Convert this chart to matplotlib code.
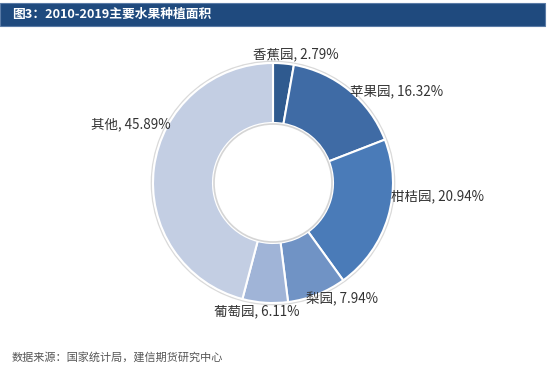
import matplotlib.pyplot as plt
from matplotlib.patches import Rectangle, Circle

plt.rcParams['font.family'] = ['Noto Sans CJK SC', 'DejaVu Sans']

# data
categories = ['香蕉园', '苹果园', '柑桔园', '梨园', '葡萄园', '其他']
shares = [2.79, 16.32, 20.94, 7.94, 6.11, 45.89]
colors = ['#2F5A8F', '#3F6BA5', '#4A7BB8', '#7093C5', '#A0B4D7', '#C3CEE3']
# label anchor points in pixel space (x, y from top)
label_pos = [(253, 54), (350, 91), (391, 196), (306, 299), (214, 311), (91, 124)]
title = '图3：2010-2019主要水果种植面积'
source = '数据来源：国家统计局，建信期货研究中心'

fig = plt.figure(figsize=(5.5, 3.76), dpi=100)
ax = fig.add_axes([0, 0, 1, 1])

# title bar
ax.add_patch(Rectangle((0, 3), 545, 23, facecolor='#1F4A7E', edgecolor='#5A7BA6', lw=0.8))
ax.text(12, 14.5, title, color='white', fontsize=9.2, fontweight='bold', va='center', ha='left')

# faint shadow around the ring
ax.add_patch(Circle((273, 183), 121.5, facecolor='none', edgecolor='#DADADA', lw=1.2, zorder=0))

# donut (y axis is inverted, so counterclock=True draws clockwise on screen)
wedges, _ = ax.pie(shares, colors=colors, startangle=-90, counterclock=True,
                   center=(273, 183), radius=120, frame=True,
                   wedgeprops=dict(width=60, edgecolor='white', linewidth=1.5))
ax.add_patch(Circle((273, 183), 59, facecolor='none', edgecolor='#D5D5D5', lw=1.2, zorder=5))

ax.set_xlim(0, 550)
ax.set_ylim(376, 0)
ax.set_aspect('equal')
ax.axis('off')

for name, val, (x, y) in zip(categories, shares, label_pos):
    ax.text(x, y, f'{name}, {val:.2f}%', fontsize=9.7, color='#333333', va='center', ha='left')

ax.text(12, 357, source, fontsize=8, color='#555555', style='italic', va='center', ha='left')

fig.savefig('out.png', dpi=100)
